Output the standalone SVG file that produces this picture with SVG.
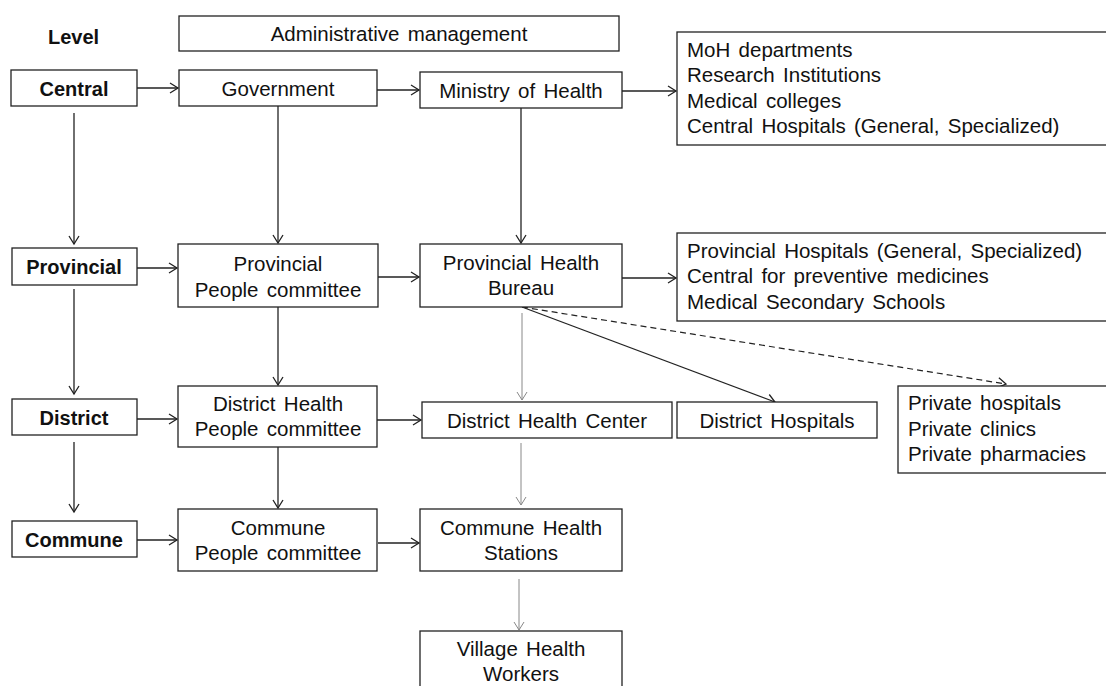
<svg xmlns="http://www.w3.org/2000/svg" width="1106" height="686" viewBox="0 0 1106 686">
<style>
.box{fill:#fff;stroke:#222;stroke-width:1.3}
.t{font-family:"Liberation Sans",Arial,sans-serif;font-size:20.5px;fill:#111;word-spacing:2.6px}
.c{text-anchor:middle}
.b{font-weight:bold;font-size:20px;word-spacing:0}
.ln{fill:none;stroke:#222;stroke-width:1.3;marker-end:url(#ah)}
.gl{fill:none;stroke:#888;stroke-width:1;marker-end:url(#ahg)}
.dl{fill:none;stroke:#222;stroke-width:1.2;stroke-dasharray:6 4;marker-end:url(#ah)}
</style>
<defs>
<marker id="ah" markerUnits="userSpaceOnUse" markerWidth="12" markerHeight="12" viewBox="-10 -6 12 12" refX="0" refY="0" orient="auto">
<path d="M-8,-5 L0,0 L-8,5" fill="none" stroke="#222" stroke-width="1.3"/>
</marker>
<marker id="ahg" markerUnits="userSpaceOnUse" markerWidth="12" markerHeight="12" viewBox="-10 -6 12 12" refX="0" refY="0" orient="auto">
<path d="M-8,-5 L0,0 L-8,5" fill="none" stroke="#888" stroke-width="1"/>
</marker>
</defs>
<rect width="1106" height="686" fill="#fff"/>

<g id="connectors">
<line class="ln" x1="137" y1="88" x2="178" y2="88"/>
<line class="ln" x1="377" y1="90" x2="419" y2="90"/>
<line class="ln" x1="622" y1="91" x2="676" y2="91"/>
<line class="ln" x1="74" y1="113" x2="74" y2="244"/>
<line class="ln" x1="278" y1="106" x2="278" y2="243"/>
<line class="ln" x1="521" y1="108" x2="521" y2="243"/>
<line class="ln" x1="137" y1="268" x2="177" y2="268"/>
<line class="ln" x1="378" y1="277" x2="419" y2="277"/>
<line class="ln" x1="622" y1="278" x2="676" y2="278"/>
<line class="ln" x1="74" y1="289" x2="74" y2="394"/>
<line class="ln" x1="278" y1="307" x2="278" y2="385"/>
<line class="gl" x1="522" y1="313" x2="522" y2="400"/>
<line class="ln" x1="522" y1="307" x2="775" y2="402"/>
<line class="dl" x1="522" y1="307" x2="1006" y2="384"/>
<line class="ln" x1="137" y1="419" x2="177" y2="419"/>
<line class="ln" x1="377" y1="420" x2="421" y2="420"/>
<line class="ln" x1="74" y1="442" x2="74" y2="512"/>
<line class="ln" x1="278" y1="447" x2="278" y2="508"/>
<line class="gl" x1="521" y1="443" x2="521" y2="505"/>
<line class="ln" x1="137" y1="540" x2="177" y2="540"/>
<line class="ln" x1="378" y1="543" x2="419" y2="543"/>
<line class="gl" x1="519" y1="579" x2="519" y2="630"/>
</g>

<g id="level-label"><text class="t b" x="48" y="44">Level</text></g>
<g id="admin"><rect class="box" x="179" y="16" width="440" height="35"/><text class="t c" x="399" y="41">Administrative management</text></g>

<g id="central"><rect class="box" x="11" y="70" width="126" height="36"/><text class="t c b" x="74" y="96">Central</text></g>
<g id="government"><rect class="box" x="179" y="70" width="198" height="36"/><text class="t c" x="278" y="96">Government</text></g>
<g id="ministry"><rect class="box" x="420" y="72" width="202" height="36"/><text class="t c" x="521" y="98">Ministry of Health</text></g>
<g id="moh-units"><rect class="box" x="677" y="32" width="440" height="113"/>
<text class="t" x="687" y="57">MoH departments</text>
<text class="t" x="687" y="82">Research Institutions</text>
<text class="t" x="687" y="108">Medical colleges</text>
<text class="t" x="687" y="133">Central Hospitals (General, Specialized)</text></g>

<g id="provincial"><rect class="box" x="12" y="248" width="125" height="37"/><text class="t c b" x="74" y="274">Provincial</text></g>
<g id="ppc"><rect class="box" x="178" y="244" width="200" height="63"/><text class="t c" x="278" y="271">Provincial</text><text class="t c" x="278" y="297">People committee</text></g>
<g id="phb"><rect class="box" x="420" y="244" width="202" height="63"/><text class="t c" x="521" y="270">Provincial Health</text><text class="t c" x="521" y="295">Bureau</text></g>
<g id="prov-units"><rect class="box" x="677" y="233" width="440" height="88"/>
<text class="t" x="687" y="258">Provincial Hospitals (General, Specialized)</text>
<text class="t" x="687" y="283">Central for preventive medicines</text>
<text class="t" x="687" y="309">Medical Secondary Schools</text></g>

<g id="district"><rect class="box" x="12" y="399" width="125" height="36"/><text class="t c b" x="74" y="425">District</text></g>
<g id="dhpc"><rect class="box" x="178" y="386" width="199" height="61"/><text class="t c" x="278" y="411">District Health</text><text class="t c" x="278" y="436">People committee</text></g>
<g id="dhc"><rect class="box" x="422" y="402" width="250" height="36"/><text class="t c" x="547" y="428">District Health Center</text></g>
<g id="dh"><rect class="box" x="677" y="402" width="200" height="36"/><text class="t c" x="777" y="428">District Hospitals</text></g>
<g id="private"><rect class="box" x="898" y="386" width="220" height="87"/>
<text class="t" x="908" y="410">Private hospitals</text>
<text class="t" x="908" y="436">Private clinics</text>
<text class="t" x="908" y="461">Private pharmacies</text></g>

<g id="commune"><rect class="box" x="12" y="521" width="125" height="36"/><text class="t c b" x="74" y="547">Commune</text></g>
<g id="cpc"><rect class="box" x="178" y="509" width="199" height="62"/><text class="t c" x="278" y="535">Commune</text><text class="t c" x="278" y="560">People committee</text></g>
<g id="chs"><rect class="box" x="420" y="509" width="202" height="62"/><text class="t c" x="521" y="535">Commune Health</text><text class="t c" x="521" y="560">Stations</text></g>
<g id="village"><rect class="box" x="420" y="631" width="202" height="70"/><text class="t c" x="521" y="656">Village Health</text><text class="t c" x="521" y="681">Workers</text></g>
</svg>
